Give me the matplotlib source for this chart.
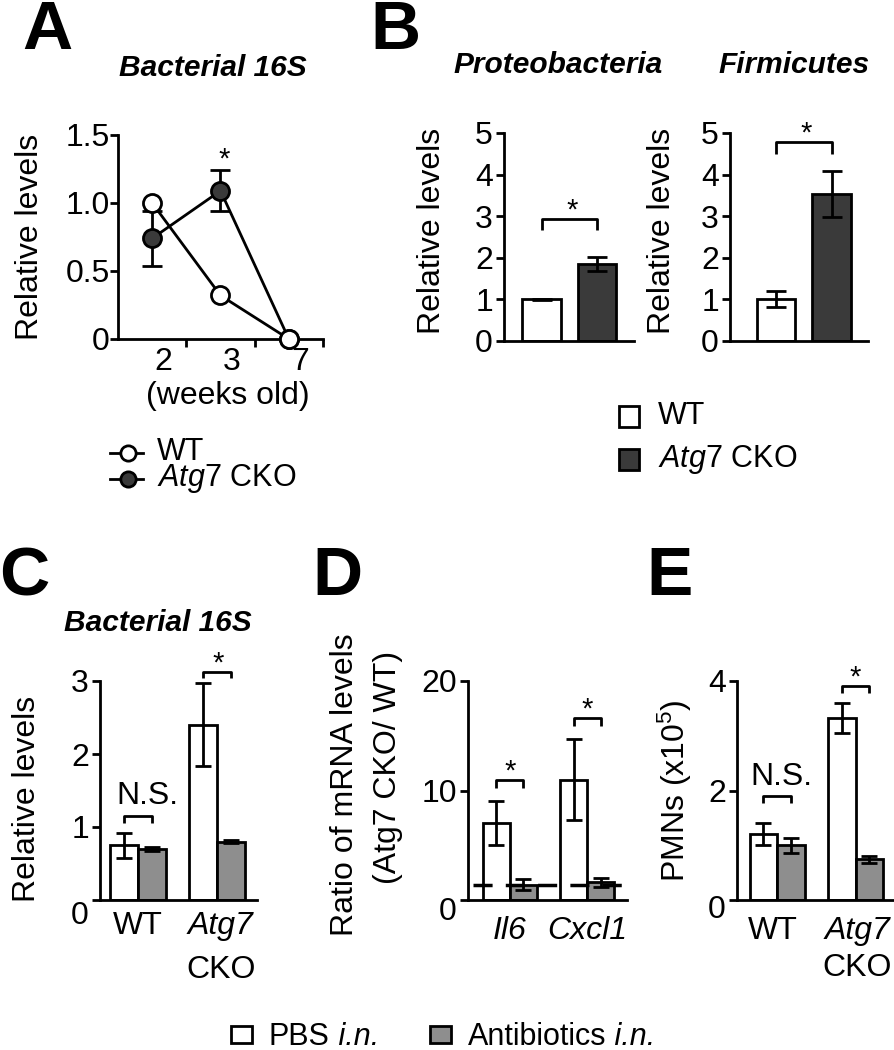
import numpy as np
import matplotlib.pyplot as plt
import matplotlib.transforms as mtransforms
from matplotlib.patches import Rectangle

plt.rcParams['font.family'] = ['Liberation Sans', 'DejaVu Sans']
plt.rcParams['mathtext.fontset'] = 'custom'
plt.rcParams['mathtext.rm'] = 'Liberation Sans'
plt.rcParams['mathtext.it'] = 'Liberation Sans:italic'
plt.rcParams['mathtext.bf'] = 'Liberation Sans:bold'

# ---- data ----
# A: bacterial 16S over age
weeks = ['2', '3', '7']
a_wt = [1.0, 0.32, 0.0]
a_wt_err = [0.0, 0.0, 0.0]
a_cko = [0.74, 1.09, 0.0]
a_cko_err = [0.20, 0.15, 0.0]

# B: phyla
genotypes = ['WT', 'Atg7 CKO']
prot = [1.0, 1.85]
prot_err = [0.02, 0.16]
firm = [1.0, 3.53]
firm_err = [0.19, 0.56]

# C: bacterial 16S, PBS vs antibiotics
c_pbs = [0.75, 2.40]
c_pbs_err = [0.17, 0.57]
c_abx = [0.70, 0.80]
c_abx_err = [0.03, 0.02]

# D: mRNA ratio
genes = ['Il6', 'Cxcl1']
d_pbs = [7.0, 11.0]
d_pbs_err = [2.0, 3.7]
d_abx = [1.4, 1.6]
d_abx_err = [0.5, 0.45]
d_ref = 1.4

# E: PMNs
e_pbs = [1.2, 3.32]
e_pbs_err = [0.20, 0.27]
e_abx = [1.0, 0.74]
e_abx_err = [0.14, 0.06]

W, H = 895, 1050
DARK = '#3a3a3a'
GRAY = '#8e8e8e'
FS = 23
TFS = 21.5
LFS = 22

fig = plt.figure(figsize=(W / 100, H / 100), dpi=100)


def px_axes(x0, y0, x1, y1):
    return fig.add_axes([x0 / W, 1 - y1 / H, (x1 - x0) / W, (y1 - y0) / H])


def style(ax, pad=2):
    for s in ['top', 'right']:
        ax.spines[s].set_visible(False)
    for s in ['left', 'bottom']:
        ax.spines[s].set_linewidth(2)
    ax.tick_params(width=2, length=6, labelsize=FS, pad=pad)
    ax.patch.set_alpha(0)


def drop_zero(ax, pts):
    # the "0" label sits a little below its tick in the original
    lbl = ax.get_yticklabels()[0]
    lbl.set_transform(lbl.get_transform() +
                      mtransforms.ScaledTranslation(0, -pts / 72, fig.dpi_scale_trans))


def bracket(ax, x0, x1, ytop, ylow):
    ax.plot([x0, x0, x1, x1], [ylow, ytop, ytop, ylow], color='k', lw=2,
            clip_on=False, solid_capstyle='butt')


def star(ax, x, y):
    ax.annotate('*', (x, y), xytext=(0, -4), textcoords='offset points',
                ha='center', va='bottom', fontsize=21, annotation_clip=False)


ebar = dict(elinewidth=2, capthick=2, ecolor='k')

# overlay for free text / legends
ov = fig.add_axes([0, 0, 1, 1])
ov.set_xlim(0, W)
ov.set_ylim(H, 0)
ov.axis('off')

# panel letters
for lab, (x, y) in zip('ABCDE', [(47, 31), (395, 31), (24, 577), (337, 577), (670, 577)]):
    ov.text(x, y, lab, fontsize=50, fontweight='bold', ha='center', va='center')

# ---- A ----
ax = px_axes(118, 135, 323, 339)
style(ax, pad=0)
xa = np.arange(len(weeks)) + 0.5
ax.errorbar(xa, a_cko, yerr=a_cko_err, color='k', lw=2, marker='o', ms=13,
            mfc=DARK, mec='k', mew=2, capsize=7, capthick=2, elinewidth=2,
            clip_on=False, zorder=3)
ax.errorbar(xa, a_wt, yerr=a_wt_err, color='k', lw=2, marker='o', ms=13,
            mfc='white', mec='k', mew=2, clip_on=False, zorder=4)
ax.set_xlim(0, 3)
ax.set_ylim(0, 1.5)
ax.set_xticks([1, 2, 3])
ax.set_xticklabels([])
ax.set_yticks([0, 0.5, 1.0, 1.5])
ax.set_yticklabels(['0', '0.5', '1.0', '1.5'])
for xi, w in zip(xa, weeks):
    ax.text(xi + 0.17, -0.17, w, fontsize=FS, ha='center', va='center')
ax.text(1.6, -0.42, '(weeks old)', fontsize=FS, ha='center', va='center')
star(ax, xa[1] + 0.05, a_cko[1] + a_cko_err[1] + 0.02)
ax.set_ylabel('Relative levels', fontsize=FS, va='center')
ax.yaxis.set_label_coords((30 - 118) / 205, 0.5)
ov.text(213, 68, 'Bacterial 16S', fontsize=TFS, fontweight='bold',
        style='italic', ha='center', va='center')

# legend A (one two-line text so the tight rows stay together)
for yy, fc in [(453, 'white'), (479, DARK)]:
    ov.plot([110, 143], [yy, yy], color='k', lw=2)
    ov.plot([128], [yy], marker='o', ms=11, mfc=fc, mec='k', mew=2)
ov.text(157, 466, 'WT\n$\\mathit{Atg7}$ CKO', fontsize=LFS, ha='left', va='center',
        linespacing=0.78)

# ---- B ----
xb = np.arange(len(genotypes))
for (x0, x1, xl), vals, errs, title, tx, brk, lbx in [
        ((504, 634, -0.676), prot, prot_err, 'Proteobacteria', 558, (2.93, 2.67), 432),
        ((730, 868, -0.83), firm, firm_err, 'Firmicutes', 794, (4.78, 4.50), 662)]:
    ax = px_axes(x0, 133, x1, 341)
    style(ax)
    ax.bar(xb, vals, width=0.7, yerr=errs, color=['white', DARK], edgecolor='k',
           lw=2, capsize=7, error_kw=ebar)
    ax.set_xlim(xl, xl + (x1 - x0) / 55.5)
    ax.set_ylim(0, 5)
    ax.set_yticks(range(6))
    ax.set_xticks([])
    bracket(ax, 0, 1, brk[0], brk[1])
    star(ax, 0.55, brk[0])
    ax.set_ylabel('Relative levels', fontsize=FS, va='center')
    ax.yaxis.set_label_coords((lbx - x0) / (x1 - x0), 0.53)
    ov.text(tx, 65, title, fontsize=TFS, fontweight='bold', style='italic',
            ha='center', va='center')

# legend B
for yy, fc, lab in [(416, 'white', 'WT'), (459, DARK, r'$\mathit{Atg7}$ CKO')]:
    ov.add_patch(Rectangle((619, yy - 10), 20, 21, facecolor=fc, edgecolor='k', lw=2))
    ov.text(658, yy, lab, fontsize=LFS, ha='left', va='center')


# ---- C, D, E ----
def grouped(x0, x1, xl, unit, pbs, pbs_err, abx, abx_err):
    ax = px_axes(x0, 681, x1, 900)
    style(ax)
    g = np.arange(len(pbs))
    ax.bar(g - 0.175, pbs, width=0.35, yerr=pbs_err, color='white', edgecolor='k',
           lw=2, capsize=6, error_kw=ebar)
    ax.bar(g + 0.175, abx, width=0.35, yerr=abx_err, color=GRAY, edgecolor='k',
           lw=2, capsize=6, error_kw=ebar)
    ax.set_xlim(xl, xl + (x1 - x0) / unit)
    ax.set_xticks([])
    return ax, g


def xlab_two(ax, x, y1, y2):
    tr = ax.get_xaxis_transform()
    ax.text(x, y1, 'Atg7', style='italic', fontsize=FS, ha='center', va='center', transform=tr)
    ax.text(x, y2, 'CKO', fontsize=FS, ha='center', va='center', transform=tr)


# C
ax, g = grouped(100, 257, -0.48, 79, c_pbs, c_pbs_err, c_abx, c_abx_err)
ax.set_ylim(0, 3)
ax.set_yticks([0, 1, 2, 3])
drop_zero(ax, 9)
bracket(ax, -0.175, 0.175, 1.15, 1.05)
ax.text(0.12, 1.42, 'N.S.', fontsize=FS, ha='center', va='center')
bracket(ax, 0.825, 1.175, 3.13, 3.04)
star(ax, 1.01, 3.13)
tr = ax.get_xaxis_transform()
ax.text(0, -0.12, 'WT', fontsize=FS, ha='center', va='center', transform=tr)
xlab_two(ax, 1.05, -0.12, -0.32)
ax.set_ylabel('Relative levels', fontsize=FS, va='center')
ax.yaxis.set_label_coords((27 - 100) / 157, 0.46)
ov.text(158, 623, 'Bacterial 16S', fontsize=TFS, fontweight='bold',
        style='italic', ha='center', va='center')

# D
ax, g = grouped(468, 627, -0.54, 77.5, d_pbs, d_pbs_err, d_abx, d_abx_err)
ax.set_ylim(0, 20)
ax.set_yticks([0, 10, 20])
drop_zero(ax, 6)
ax.axhline(d_ref, xmin=0.03, xmax=1.0, color='k', lw=2.5, ls=(0, (5.5, 3.8)), zorder=5)
bracket(ax, -0.175, 0.175, 11.0, 10.2)
star(ax, 0.0, 11.0)
bracket(ax, 0.825, 1.175, 16.6, 15.9)
star(ax, 1.0, 16.6)
tr = ax.get_xaxis_transform()
for gi, name in zip(g, genes):
    ax.text(gi, -0.14, name, style='italic', fontsize=FS, ha='center', va='center', transform=tr)
ov.text(345, 785, 'Ratio of mRNA levels', fontsize=FS, rotation=90, ha='center', va='center')
ov.text(388, 767, '(Atg7 CKO/ WT)', fontsize=FS, rotation=90, ha='center', va='center')

# E
ax, g = grouped(737, 895, -0.51, 78.5, e_pbs, e_pbs_err, e_abx, e_abx_err)
ax.set_ylim(0, 4)
ax.set_yticks([0, 2, 4])
drop_zero(ax, 5)
bracket(ax, -0.175, 0.175, 1.90, 1.77)
ax.text(0.05, 2.25, 'N.S.', fontsize=FS, ha='center', va='center')
bracket(ax, 0.825, 1.175, 3.90, 3.78)
star(ax, 1.0, 3.90)
tr = ax.get_xaxis_transform()
ax.text(-0.06, -0.14, 'WT', fontsize=FS, ha='center', va='center', transform=tr)
xlab_two(ax, 1.02, -0.14, -0.31)
ax.set_ylabel(r'PMNs (x10$^5$)', fontsize=FS, va='center')
ax.yaxis.set_label_coords((675 - 737) / 158, 0.5)

# bottom legend
for x0, fc, lab in [(231, 'white', 'PBS'), (430, GRAY, 'Antibiotics')]:
    ov.add_patch(Rectangle((x0, 1026), 21, 17, facecolor=fc, edgecolor='k', lw=2))
    t = ov.text(x0 + 38, 1037, lab, fontsize=LFS, ha='left', va='center')
    ov.annotate(' i.n.', xy=(1, 0.5), xycoords=t, ha='left', va='center',
                fontsize=LFS, style='italic')

fig.savefig('out.png', dpi=100)
